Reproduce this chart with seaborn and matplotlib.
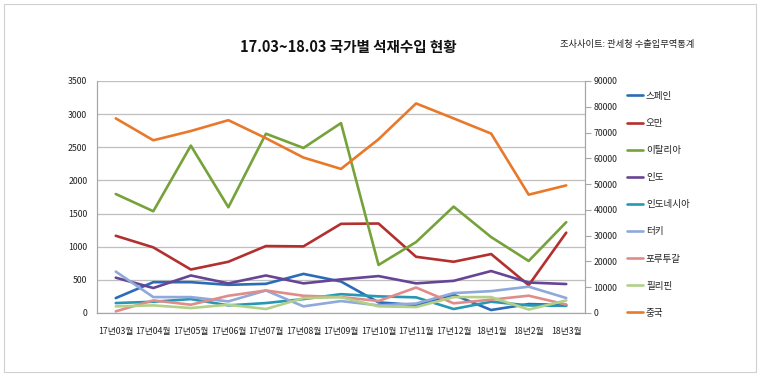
import matplotlib
matplotlib.use("Agg")
import matplotlib.pyplot as plt
import seaborn as sns
import pandas as pd
from matplotlib.lines import Line2D
from matplotlib.patches import Rectangle

months = ["17년03월", "17년04월", "17년05월", "17년06월", "17년07월", "17년08월", "17년09월",
          "17년10월", "17년11월", "17년12월", "18년1월", "18년2월", "18년3월"]

spain = [225, 465, 465, 425, 440, 590, 475, 160, 120, 275, 45, 135, 120]
oman = [1165, 990, 656, 773, 1010, 1005, 1345, 1350, 848, 773, 889, 420, 1212]
italy = [1795, 1535, 2525, 1595, 2705, 2490, 2865, 725, 1070, 1605, 1145, 785, 1370]
india = [533, 377, 566, 447, 566, 447, 507, 557, 447, 485, 633, 460, 437]
indonesia = [150, 170, 210, 115, 150, 210, 284, 251, 236, 60, 170, 115, 108]
turkey = [625, 240, 240, 175, 340, 100, 180, 115, 143, 300, 330, 397, 226]
portugal = [25, 190, 125, 260, 340, 260, 241, 181, 384, 146, 201, 261, 128]
philippines = [100, 115, 75, 125, 60, 225, 238, 100, 90, 240, 240, 52, 190]
china = [75500, 67000, 70600, 74800, 67800, 60300, 55900, 67400, 81300, 75500, 69600, 45900, 49500]

left_names = ["스페인", "오만", "이탈리아", "인도", "인도네시아", "터키", "포루투갈", "필리핀"]
left_values = [spain, oman, italy, india, indonesia, turkey, portugal, philippines]
right_name = "중국"

colors = ["#2B6CB6", "#B2302E", "#76A23A", "#674595", "#2797B3", "#8FA9DA", "#E08C8A", "#B2D088"]
china_color = "#E9792A"

sns.set_theme(style="white")
plt.rcParams['font.family'] = ['Noto Sans CJK KR', 'DejaVu Sans']

rows = []
for name, vals in zip(left_names, left_values):
    for i, v in enumerate(vals):
        rows.append({"pos": i, "value": v, "country": name})
df = pd.DataFrame(rows)
df_cn = pd.DataFrame({"pos": list(range(len(months))), "value": china})

fig = plt.figure(figsize=(7.6, 3.76), dpi=100)
ax = fig.add_axes([97/760, 1-313/376, (585-97)/760, (313-81)/376])

lw = 1.9
sns.lineplot(data=df, x="pos", y="value", hue="country", palette=colors,
             hue_order=left_names, linewidth=lw, ax=ax, legend=False, sort=False)
ax2 = ax.twinx()
sns.lineplot(data=df_cn, x="pos", y="value", color=china_color, linewidth=lw, ax=ax2,
             legend=False, sort=False)

ax.set_xlim(-0.5, len(months) - 0.5)
ax.set_ylim(0, 3500)
ax.set_yticks(range(0, 3501, 500))
ax2.set_ylim(0, 90000)
ax2.set_yticks(range(0, 90001, 10000))
ax.set_xticks(range(len(months)))
ax.set_xticklabels(months, fontsize=6.3, color="#222222")
ax.tick_params(axis="x", length=0, pad=10)
ax.tick_params(axis="y", length=0, labelsize=6.3, labelcolor="#222222", pad=7)
ax2.tick_params(axis="y", length=4, width=0.8, color="#A6A6A6", labelsize=6.3,
                labelcolor="#222222", pad=2)
ax.set_xlabel("")
ax.set_ylabel("")
ax2.set_ylabel("")
ax.grid(axis="y", color="#BFBFBF", linewidth=0.9)
ax.set_axisbelow(True)
for a in (ax, ax2):
    a.spines["top"].set_visible(False)
    for s in ["left", "right", "bottom"]:
        a.spines[s].set_color("#A6A6A6")
        a.spines[s].set_linewidth(0.8)

handles = [Line2D([0], [0], color=c, lw=lw) for c in colors] + [Line2D([0], [0], color=china_color, lw=lw)]
labels = left_names + [right_name]
fig.legend(handles, labels, loc="upper left", bbox_to_anchor=(623/760, 1-88/376),
           frameon=False, fontsize=6.9, handlelength=1.7, handletextpad=0.3,
           labelspacing=1.89, borderaxespad=0)

fig.text(348/760, 1-47/376, "17.03~18.03 국가별 석재수입 현황", ha="center", va="center",
         fontsize=10.5, fontweight="bold", color="#111111")
fig.text(560/760, 1-45/376, "조사사이트: 관세청 수출입무역통계", ha="left", va="center",
         fontsize=6.7, color="#222222")

fig.patches.append(Rectangle((4/760, 4/376), 752/760, 368/376, transform=fig.transFigure,
                             fill=False, edgecolor="#D0D0D0", linewidth=0.8))

fig.savefig("out.png", dpi=100)
